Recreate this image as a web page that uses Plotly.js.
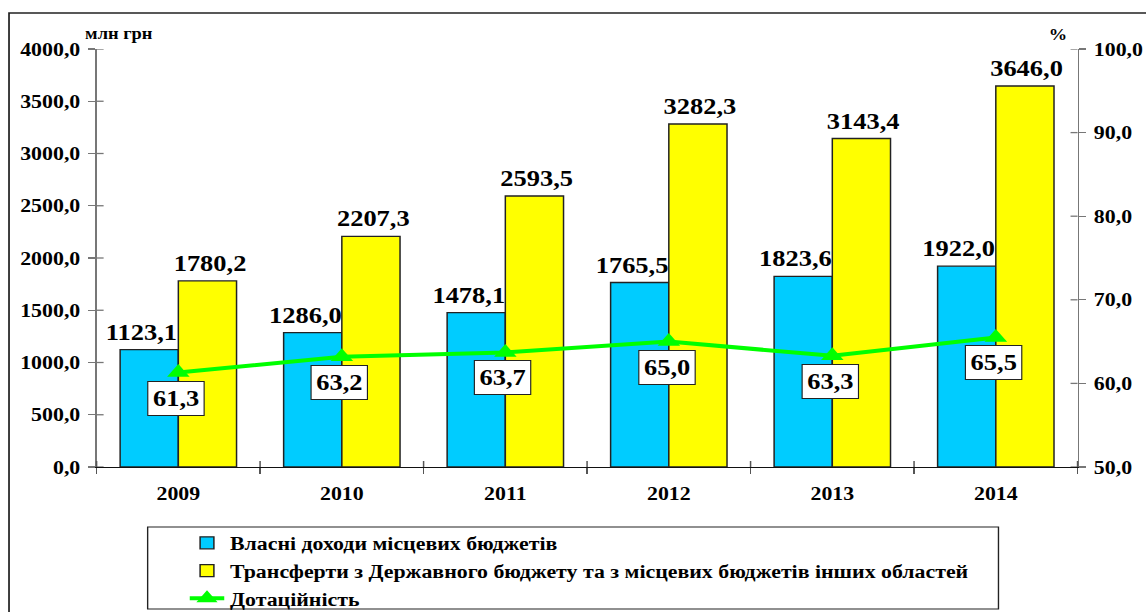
<!DOCTYPE html>
<html>
<head>
<meta charset="utf-8">
<script src="https://cdn.plot.ly/plotly-3.0.1.min.js"></script>
<style>
  html, body { margin:0; padding:0; background:#fff; overflow:hidden; }
  #wrap { width:1146px; height:612px; overflow:hidden; }
  #chart { transform-origin: 0 0; }
</style>
</head>
<body>
<div id="wrap"><div id="chart"></div></div>
<script>
// ---- data ----
const years = ['2009', '2010', '2011', '2012', '2013', '2014'];
const ownRevenue = [1123.1, 1286.0, 1478.1, 1765.5, 1823.6, 1922.0];
const transfers = [1780.2, 2207.3, 2593.5, 3282.3, 3143.4, 3646.0];
const subsidyRate = [61.3, 63.2, 63.7, 65.0, 63.3, 65.5];
const leftTicks = [0, 500, 1000, 1500, 2000, 2500, 3000, 3500, 4000];
const rightTicks = [50, 60, 70, 80, 90, 100];
const seriesNames = [
  'Власні доходи місцевих бюджетів',
  'Трансферти з Державного бюджету та з місцевих бюджетів інших областей',
  'Дотаційність'
];
const leftUnit = 'млн грн';
const rightUnit = '%';

// ---- geometry (real pixels) ----
const SX = 1.15;               // horizontal stretch of the original picture
const W = 1146 / SX, H = 612;
const plotL = 97, plotR = 1077, plotT = 49, plotB = 467;
const pw = plotR - plotL, ph = plotB - plotT;
const px = v => (v - plotL) / pw;   // real px -> paper x
const py = v => (plotB - v) / ph;   // real px -> paper y

const serif = "'Liberation Serif', 'Times New Roman', serif";
const fmt = v => v.toFixed(1).replace('.', ',');
const labelFont = { family: serif, size: 23, weight: 'bold', color: '#000' };

const traces = [
  {
    type: 'bar', name: seriesNames[0], x: years, y: ownRevenue,
    marker: { color: '#00CCFF', line: { color: '#222', width: 1.3 } },
    hoverinfo: 'skip'
  },
  {
    type: 'bar', name: seriesNames[1], x: years, y: transfers,
    marker: { color: '#FFFF00', line: { color: '#222', width: 1.3 } },
    hoverinfo: 'skip'
  },
  {
    type: 'scatter', mode: 'lines+markers', name: seriesNames[2], x: years, y: subsidyRate,
    yaxis: 'y2',
    line: { color: '#00FF00', width: 4 },
    marker: { symbol: 'triangle-up', size: 17, color: '#00FF00' },
    cliponaxis: false, hoverinfo: 'skip'
  }
];

const shapes = [];
// crossing parts of tick marks
leftTicks.forEach(v => shapes.push({ type: 'line', xref: 'paper', yref: 'y', x0: 0, x1: 7 / pw, y0: v, y1: v, line: { color: '#777', width: 1.3 } }));
rightTicks.forEach(v => shapes.push({ type: 'line', xref: 'paper', yref: 'y2', x0: 1 - 7 / pw, x1: 1, y0: v, y1: v, line: { color: '#777', width: 1.3 } }));
for (let i = 0; i <= years.length; i++) {
  const xb = i / years.length; // category boundaries on paper
  shapes.push({ type: 'line', xref: 'paper', yref: 'paper', x0: xb, x1: xb, y0: 0, y1: 6 / ph, line: { color: '#555', width: 1.3 } });
}
// outer frame
shapes.push({ type: 'rect', xref: 'paper', yref: 'paper', x0: px(9.5), x1: px(1150), y0: py(620), y1: py(13), line: { color: '#222', width: 1.5 }, fillcolor: 'rgba(0,0,0,0)' });
// legend frame
shapes.push({ type: 'rect', xref: 'paper', yref: 'paper', x0: px(148), x1: px(998), y0: py(609), y1: py(527), line: { color: '#222', width: 1.2 }, fillcolor: 'rgba(0,0,0,0)' });

const annotations = [];
// bar value labels (drawn above the bars)
ownRevenue.forEach((v, i) => annotations.push({
  x: i, y: v, xref: 'x', yref: 'y', text: fmt(v), showarrow: false,
  xanchor: 'center', yanchor: 'bottom', xshift: -32, yshift: 3, font: labelFont
}));
transfers.forEach((v, i) => annotations.push({
  x: i, y: v, xref: 'x', yref: 'y', text: fmt(v), showarrow: false,
  xanchor: 'center', yanchor: 'bottom', xshift: 27, yshift: 3, font: labelFont
}));
// line value labels in boxes
subsidyRate.forEach((v, i) => annotations.push({
  x: i, y: v, xref: 'x', yref: 'y2', text: fmt(v), showarrow: false,
  yanchor: 'top', xanchor: 'center', yshift: -8, xshift: -2,
  bgcolor: '#fff', bordercolor: '#222', borderwidth: 1, borderpad: 4,
  font: labelFont
}));
annotations.push({
  xref: 'paper', yref: 'paper', x: px(83), y: py(34), xanchor: 'left', yanchor: 'middle',
  text: leftUnit, showarrow: false, font: { family: serif, size: 16, weight: 'bold', color: '#000' }
});
annotations.push({
  xref: 'paper', yref: 'paper', x: px(1057), y: py(34), xanchor: 'center', yanchor: 'middle',
  text: rightUnit, showarrow: false, font: { family: serif, size: 16, weight: 'bold', color: '#000' }
});

const tickFont = { family: serif, size: 19, weight: 'bold', color: '#000' };

const layout = {
  width: W, height: H,
  font: { family: serif, weight: 'bold', color: '#000' },
  margin: { l: plotL / SX, r: (1146 - plotR) / SX, t: plotT, b: H - plotB, pad: 0, autoexpand: false },
  paper_bgcolor: '#fff', plot_bgcolor: '#fff',
  separators: ', ',
  barmode: 'group', bargap: 0.288, bargroupgap: 0,
  showlegend: true,
  legend: {
    xref: 'container', yref: 'container',
    x: 184 / 1146, y: 1 - 524 / 612, xanchor: 'left', yanchor: 'top',
    orientation: 'v', bgcolor: 'rgba(0,0,0,0)', borderwidth: 0,
    font: { family: serif, size: 19, weight: 'bold', color: '#000' },
    tracegroupgap: 0, traceorder: 'normal'
  },
  xaxis: {
    type: 'category', range: [-0.5, years.length - 0.5], showgrid: false, zeroline: false,
    showline: true, linecolor: '#111', linewidth: 1.3,
    ticks: 'outside', ticklen: 6, tickcolor: '#555', tickwidth: 1.3, tickson: 'boundaries',
    tickfont: tickFont, tickangle: 0, ticklabelstandoff: 9, fixedrange: true
  },
  yaxis: {
    range: [0, 4000], tickvals: leftTicks, ticktext: leftTicks.map(fmt),
    showgrid: false, zeroline: false,
    showline: true, linecolor: '#777', linewidth: 1.3,
    ticks: 'outside', ticklen: 7 / SX, tickcolor: '#777', tickwidth: 1.3,
    tickfont: tickFont, ticklabelstandoff: 3, fixedrange: true
  },
  yaxis2: {
    range: [50, 100], tickvals: rightTicks, ticktext: rightTicks.map(fmt),
    overlaying: 'y', side: 'right', anchor: 'x',
    showgrid: false, zeroline: false,
    showline: true, linecolor: '#777', linewidth: 1.3,
    ticks: 'outside', ticklen: 7 / SX, tickcolor: '#777', tickwidth: 1.3,
    tickfont: tickFont, ticklabelstandoff: 3, fixedrange: true
  },
  shapes: shapes,
  annotations: annotations
};

const el = document.getElementById('chart');
el.style.transform = 'scaleX(' + SX + ')';
Plotly.newPlot(el, traces, layout, { staticPlot: true, displayModeBar: false });
</script>
</body>
</html>
